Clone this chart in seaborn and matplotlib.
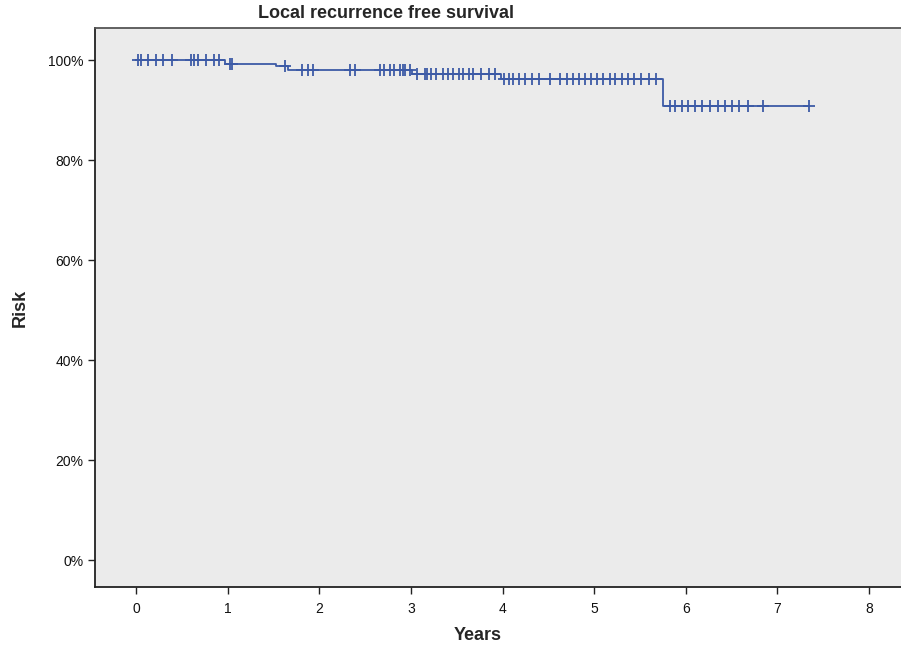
import numpy as np
import pandas as pd
import matplotlib
matplotlib.use("Agg")
import matplotlib.pyplot as plt
from matplotlib.ticker import FuncFormatter
import seaborn as sns

# Kaplan-Meier estimate: times where the curve drops, and the level after each drop (%)
step_times = [0.0, 0.97, 1.53, 1.66, 3.01, 3.98, 5.75]
step_levels = [100.0, 99.3, 98.8, 98.0, 97.3, 96.2, 90.9]
last_followup = 7.35

# Censored observations (years)
censor_times = [
    0.02, 0.05, 0.13, 0.22, 0.29, 0.39, 0.60, 0.63, 0.68, 0.76, 0.85, 0.90,
    1.02, 1.05, 1.63,
    1.81, 1.88, 1.93, 2.33, 2.39, 2.66, 2.71, 2.77, 2.82, 2.88, 2.91, 2.94, 2.99,
    3.07, 3.15, 3.18, 3.22, 3.27, 3.35, 3.40, 3.46, 3.52, 3.57, 3.63, 3.68,
    3.76, 3.85, 3.92,
    4.02, 4.07, 4.12, 4.18, 4.25, 4.32, 4.40, 4.52, 4.63, 4.70, 4.77, 4.83,
    4.90, 4.97, 5.03, 5.10, 5.17, 5.23, 5.30, 5.37, 5.44, 5.51, 5.60, 5.68,
    5.83, 5.88, 5.96, 6.03, 6.10, 6.18, 6.27, 6.35, 6.43, 6.51, 6.58, 6.68,
    6.84, 7.35,
]

x_ticks = [0, 1, 2, 3, 4, 5, 6, 7, 8]
y_ticks = [0, 20, 40, 60, 80, 100]

title = "Local recurrence free survival"
x_label = "Years"
y_label = "Risk"

curve = pd.DataFrame({
    "time": step_times + [last_followup],
    "surv": step_levels + [step_levels[-1]],
})

def level_at(t):
    idx = np.searchsorted(step_times, t, side="right") - 1
    return step_levels[idx]

censored = pd.DataFrame({
    "time": censor_times,
    "surv": [level_at(t) for t in censor_times],
})

sns.set_style("white")
plt.rcParams["font.family"] = ["Liberation Sans", "DejaVu Sans"]

line_color = "#3c5aa6"

fig = plt.figure(figsize=(9.01, 6.49), dpi=100)
ax_w = 1 - 95 / 901 + 0.01
ax = fig.add_axes([95 / 901, 62 / 649, ax_w, (587 - 28) / 649])
ax.set_facecolor("#ebebeb")

sns.lineplot(data=curve, x="time", y="surv", drawstyle="steps-post",
             color=line_color, linewidth=1.3, ax=ax, estimator=None)
sns.scatterplot(data=censored, x="time", y="surv", marker="+", s=65,
                color=line_color, linewidth=1.3, ax=ax, zorder=3)

ax.set_xlim(-0.45, 8.45)
ax.set_ylim(-5.4, 106.4)
ax.set_xticks(x_ticks)
ax.set_yticks(y_ticks)
ax.yaxis.set_major_formatter(FuncFormatter(lambda v, p: f"{v:.0f}%"))

for side in ["left", "bottom"]:
    ax.spines[side].set_visible(True)
    ax.spines[side].set_color("#222222")
    ax.spines[side].set_linewidth(1.3)
ax.spines["top"].set_color("#555555")
ax.spines["top"].set_linewidth(1.3)
ax.spines["right"].set_visible(False)

ax.tick_params(axis="both", which="both", length=5, width=1.0, color="#222222",
               labelsize=10, labelcolor="#111111", left=True, bottom=True)
ax.tick_params(axis="x", pad=6)

fig.text(386 / 901, 1 - 13 / 649, title, ha="center", va="center",
         fontsize=13, fontweight="bold")
ax.set_xlabel(x_label, fontsize=13, fontweight="bold")
ax.xaxis.set_label_coords((478 - 95) / (901 * ax_w), -40 / 559)
ax.set_ylabel(y_label, fontsize=13, fontweight="bold", labelpad=14)

fig.savefig("out.png", dpi=100)
